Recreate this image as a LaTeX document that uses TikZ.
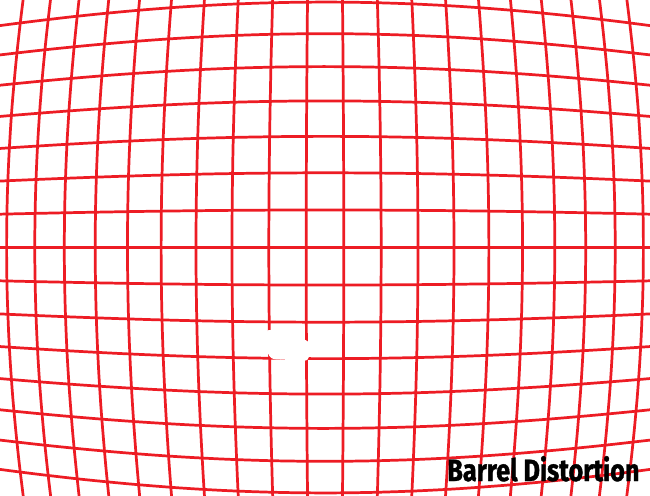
\documentclass[tikz,border=0pt]{standalone}
\usepackage{fontspec}
\newfontfamily\capfont[FakeStretch=0.82, BoldFeatures={FakeBold=1.2}]{Fira Sans}
\usepackage{xcolor}
\usepackage{tikz}
\definecolor{gridred}{RGB}{237,28,36}

\begin{document}
\begin{tikzpicture}[
  x=0.02cm, y=0.02cm,
  gridline/.style={draw=gridred, line width=1.55pt, line cap=round},
  caption/.style={anchor=base west, inner sep=0pt, text=black,
    font=\capfont\bfseries\fontsize{17.5}{20}\selectfont},
  declare function={
    gA(\t)=(2*\t+1)/(3*\t+1);
    gB(\t)=(2*\t*gA(\t)^3+1)/(3*\t*gA(\t)^2+1);
    gC(\t)=(2*\t*gB(\t)^3+1)/(3*\t*gB(\t)^2+1);
  }
]
\def\lensU{912.9}
\def\gstep{0.041187}
\fill[white] (-325,-247.5) rectangle (325,247.5);
\useasboundingbox (-325,-247.5) rectangle (325,247.5);

\begin{scope}
\clip (-325,-247.5) rectangle (325,247.5);
% Grid rows
\foreach \j in {-8,...,8}{
  \pgfmathsetmacro\uy{\j*\gstep}
  \draw[gridline] plot[domain=-0.6:0.6, samples=61, smooth, variable=\p]
    ({\lensU*\p*gC((\p)*(\p)+(\uy)*(\uy))}, {\lensU*\uy*gC((\p)*(\p)+(\uy)*(\uy))});
}
% Grid columns
\foreach \i in {-11,...,10}{
  \pgfmathsetmacro\ux{(\i+0.5)*\gstep}
  \draw[gridline] plot[domain=-0.45:0.45, samples=46, smooth, variable=\q]
    ({\lensU*\ux*gC((\ux)*(\ux)+(\q)*(\q))}, {\lensU*\q*gC((\ux)*(\ux)+(\q)*(\q))});
}
% Blank patch
\fill[white, rounded corners=2] (-58,-81.5) -- (-37,-87.5) -- (-16,-93.5) -- (-15,-103.5)
  -- (-17,-113.5) -- (-35,-112.5) -- (-54,-111.5) -- (-58,-104.5) -- (-59,-92.5) -- cycle;
\end{scope}

\node[caption] (title) at (122,-233.5) {Barrel Distortion};
\end{tikzpicture}
\end{document}
